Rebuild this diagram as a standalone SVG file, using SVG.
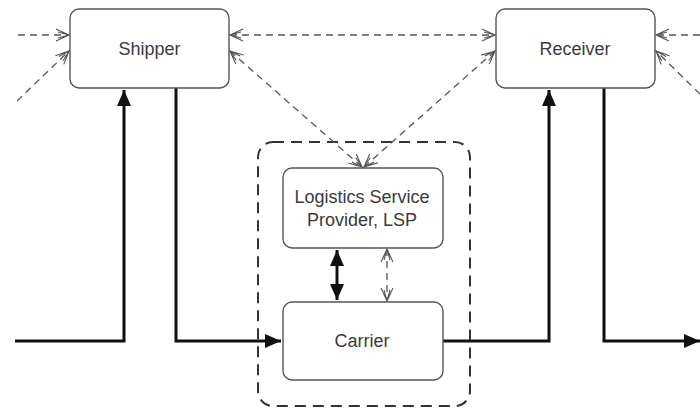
<svg xmlns="http://www.w3.org/2000/svg" width="700" height="410" viewBox="0 0 700 410">
  <style>
    .box { fill: #ffffff; stroke: #555555; stroke-width: 1.4; }
    .label { font-family: "Liberation Sans", Arial, sans-serif; font-size: 18px; fill: #3a3a3a; text-anchor: middle; }
    .flow { fill: none; stroke: #111111; stroke-width: 3; }
    .info { fill: none; stroke: #555555; stroke-width: 1.3; stroke-dasharray: 7 5; }
    .group { fill: none; stroke: #333333; stroke-width: 2; stroke-dasharray: 11 7; }
  </style>
  <defs>
    <marker id="solid" markerUnits="userSpaceOnUse" markerWidth="18" markerHeight="14" refX="16" refY="7" orient="auto-start-reverse">
      <path d="M0,0 L16,7 L0,14 Z" fill="#111111"/>
    </marker>
    <marker id="open" markerUnits="userSpaceOnUse" markerWidth="16" markerHeight="14" refX="14" refY="7" orient="auto-start-reverse">
      <path d="M1,1 L14,7 L1,13 M3,4 L14,7 L3,10" fill="none" stroke="#555555" stroke-width="1.1"/>
    </marker>
  </defs>

  <!-- LSP + carrier grouping -->
  <rect class="group" x="258" y="142" width="212" height="264" rx="15"/>

  <g id="connectors">
    <!-- physical goods flow -->
    <path class="flow" d="M15,341 H124 V90" marker-end="url(#solid)"/>
    <path class="flow" d="M176,88 V341 H281" marker-end="url(#solid)"/>
    <path class="flow" d="M443,341 H549 V90" marker-end="url(#solid)"/>
    <path class="flow" d="M604,88 V341 H700" marker-end="url(#solid)"/>
    <path class="flow" d="M337,250 V300" marker-start="url(#solid)" marker-end="url(#solid)"/>

    <!-- information flow -->
    <path class="info" d="M18,35 H69" marker-end="url(#open)"/>
    <path class="info" d="M17,101 L69,51" marker-end="url(#open)"/>
    <path class="info" d="M230,35 H495" marker-start="url(#open)" marker-end="url(#open)"/>
    <path class="info" d="M230,51 L362,167" marker-start="url(#open)" marker-end="url(#open)"/>
    <path class="info" d="M495,51 L364,167" marker-start="url(#open)" marker-end="url(#open)"/>
    <path class="info" d="M700,35 H656" marker-end="url(#open)"/>
    <path class="info" d="M700,94 L656,51" marker-end="url(#open)"/>
    <path class="info" d="M387,249 V301" marker-start="url(#open)" marker-end="url(#open)"/>
  </g>

  <g id="shipper">
    <rect class="box" x="70" y="9" width="159" height="79" rx="9"/>
    <text class="label" x="149.5" y="55">Shipper</text>
  </g>

  <g id="receiver">
    <rect class="box" x="496" y="9" width="159" height="79" rx="9"/>
    <text class="label" x="575" y="55">Receiver</text>
  </g>

  <g id="lsp">
    <rect class="box" x="283" y="168" width="160" height="80" rx="9"/>
    <text class="label" x="362" y="203">Logistics Service</text>
    <text class="label" x="362" y="226">Provider, LSP</text>
  </g>

  <g id="carrier">
    <rect class="box" x="283" y="302" width="160" height="78" rx="9"/>
    <text class="label" x="362" y="347">Carrier</text>
  </g>
</svg>
